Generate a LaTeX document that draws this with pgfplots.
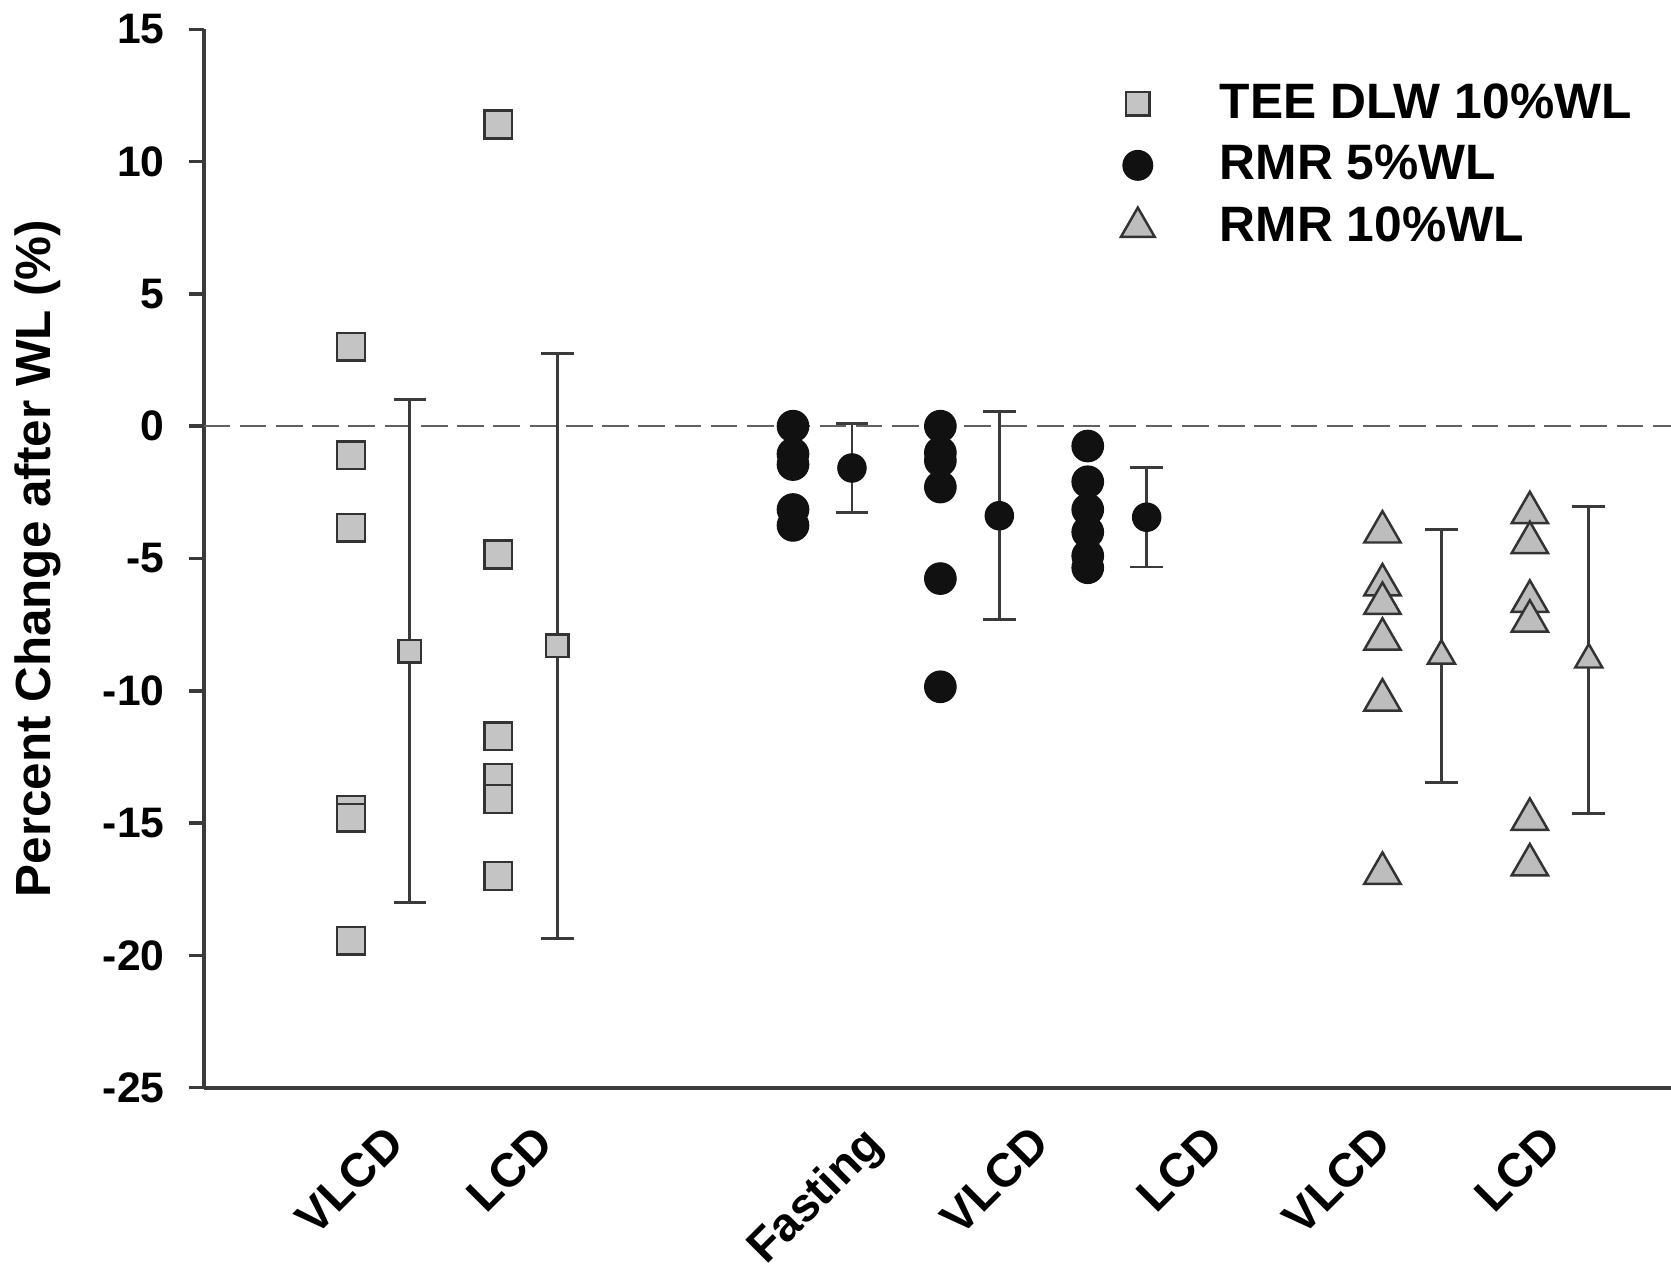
\documentclass[border=0pt]{standalone}
\usepackage{fontspec}
\setmainfont{Liberation Sans}
\usepackage{pgfplots}
\pgfplotsset{compat=1.18}
\definecolor{axgray}{HTML}{3A3A3A}
\definecolor{sqfill}{HTML}{C4C4C4}
\definecolor{trfill}{HTML}{BDBDBD}
\definecolor{mkedge}{HTML}{333333}
\definecolor{dot}{HTML}{111111}
\pgfplotsset{
  tee/.style={only marks, mark=square*, mark options={fill=sqfill, draw=mkedge, line width=0.7pt, solid}},
  rmrfive/.style={only marks, mark=*, mark options={fill=dot, draw=dot, line width=0.3pt, solid}},
  rmrten/.style={only marks, mark=triangle*, mark options={fill=trfill, draw=mkedge, line width=0.7pt, solid}},
  ebar/.style={forget plot, only marks, mark=none, draw=none,
     error bars/.cd, y dir=both, y explicit,
     error bar style={draw=axgray, line width=0.8pt, solid},
     error mark options={rotate=90, mark size=4.6pt, draw=axgray, line width=0.8pt}},
}
\begin{document}
\begin{tikzpicture}
\begin{axis}[
  name=ax,
  scale only axis,
  width=414.84pt, height=297.93pt,
  xmin=-1, xmax=9, ymin=-25, ymax=15,
  axis x line*=bottom, axis y line*=left,
  axis line style={draw=axgray, line width=1.1pt, -},
  ytick={-25,-20,...,15},
  tick align=outside,
  major tick length=4.2pt,
  ytick style={draw=axgray, line width=1pt},
  xtick={0.217,1.230,3.459,4.595,5.774,6.918,8.068},
  xticklabels={VLCD,LCD,Fasting,VLCD,LCD,VLCD,LCD},
  xtick style={draw=none},
  /pgf/number format/assume math mode=true,
  yticklabel style={font=\fontsize{12}{12}\selectfont\bfseries, inner sep=0pt, anchor=east},
  yticklabel shift=6.6pt,
  xticklabel style={font=\fontsize{13.3}{13.3}\selectfont\bfseries, inner sep=0pt, rotate=45, anchor=north east},
  xticklabel shift=5.4pt,
  ylabel={Percent Change after WL (\%)},
  ylabel style={font=\fontsize{13.9}{13.9}\selectfont\bfseries, at={(axis description cs:-0.1041,0.5)}, anchor=base},
  legend style={draw=none, fill=none, at={(axis cs:5.147,13.0)}, anchor=north west,
     inner sep=0pt, outer sep=0pt, row sep=5.4pt,
     nodes={inner sep=0pt, outer sep=0pt, font=\fontsize{14}{14}\selectfont\bfseries}},
  legend cell align=left,
  legend image code/.code={\path[draw=none, fill=none] (-8pt,-6pt) rectangle (23.1pt,6pt); \draw[#1] plot coordinates {(0pt,0pt)};},
]
% reference line
\addplot[forget plot, draw=axgray!80, line width=0.6pt, dash pattern=on 7.5pt off 2.7pt] coordinates {(-1,0) (9,0)};

% error bars (mean +- SD), drawn first so the marks lie on top
\addplot[ebar] coordinates {
 (0.4,-8.5) +- (0,9.5)
 (1.4,-8.305) +- (0,11.05)
 (3.4,-1.58) +- (0,1.68)
 (4.4,-3.385) +- (0,3.935)
 (5.4,-3.44) +- (0,1.88)
 (7.4,-8.68) +- (0,4.79)
 (8.4,-8.825) +- (0,5.805)};

% TEE DLW 10%WL individual values
\addplot[forget plot, tee, mark size=3.9pt] coordinates {
 (0,3.0) (0,-1.1) (0,-3.84) (0,-14.5) (0,-14.8) (0,-19.45)
 (1,11.4) (1,-4.85) (1,-11.72) (1,-13.29) (1,-14.09) (1,-17.0)};
% TEE means
\addplot[forget plot, tee, mark size=3.15pt] coordinates {
 (0.4,-8.5) (1.4,-8.305)};

% RMR 5%WL individual values
\addplot[forget plot, rmrfive, mark size=4.45pt] coordinates {
 (3,0) (3,-1.05) (3,-1.45) (3,-3.15) (3,-3.75)
 (4,0) (4,-1.0) (4,-1.3) (4,-2.3) (4,-5.76) (4,-9.85)
 (5,-0.75) (5,-2.1) (5,-3.15) (5,-4.0) (5,-4.9) (5,-5.35)};
\addplot[forget plot, rmrfive, mark size=4.0pt] coordinates {
 (3.4,-1.58) (4.4,-3.385) (5.4,-3.44)};

% RMR 10%WL individual values
\addplot[forget plot, rmrten, mark size=5.9pt] coordinates {
 (7,-4.0) (7,-6.0) (7,-6.7) (7,-8.05) (7,-10.35) (7,-16.9)
 (8,-3.27) (8,-4.4) (8,-6.62) (8,-7.37) (8,-14.86) (8,-16.58)};
\addplot[forget plot, rmrten, mark size=4.4pt] coordinates {
 (7.4,-8.68) (8.4,-8.825)};

% legend
\addlegendimage{tee, mark size=3.3pt}
\addlegendentry{TEE DLW 10\%WL}
\addlegendimage{rmrfive, mark size=4.2pt}
\addlegendentry{RMR 5\%WL}
\addlegendimage{rmrten, mark size=5.5pt}
\addlegendentry{RMR 10\%WL}
\end{axis}
\pgfresetboundingbox
\path[use as bounding box] ([xshift=-57.3pt,yshift=-52.3pt]ax.south west) rectangle ([xshift=-1.74pt,yshift=8.25pt]ax.north east);
\end{tikzpicture}
\end{document}
